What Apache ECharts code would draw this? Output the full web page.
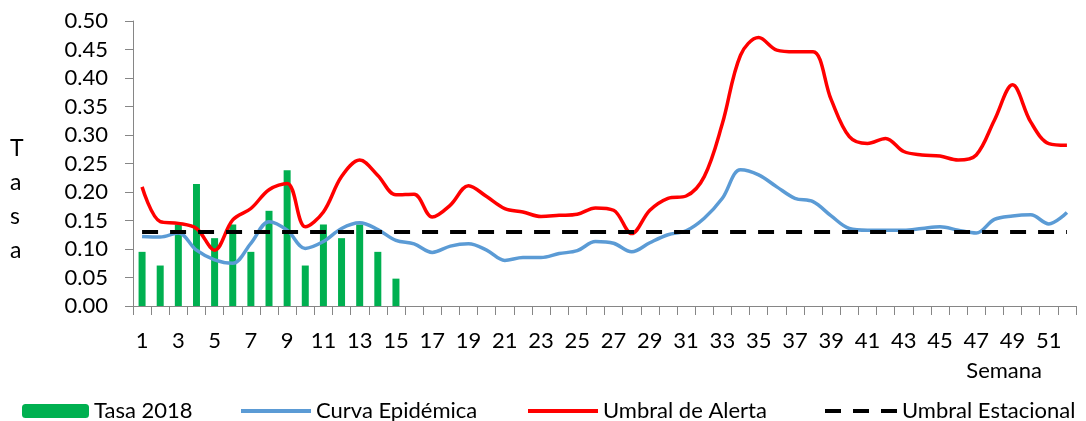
<!DOCTYPE html>
<html>
<head>
<meta charset="utf-8">
<title>Curva epidémica</title>
<script src="https://cdn.jsdelivr.net/npm/echarts@6/dist/echarts.min.js"></script>
<style>
  html, body { margin: 0; padding: 0; background: #fff; }
  #chart { width: 1086px; height: 421px; }
</style>
</head>
<body>
<div id="chart"></div>
<script>
// semanas epidemiologicas
var semanas = ['1', '2', '3', '4', '5', '6', '7', '8', '9', '10', '11', '12', '13',
  '14', '15', '16', '17', '18', '19', '20', '21', '22', '23', '24', '25', '26',
  '27', '28', '29', '30', '31', '32', '33', '34', '35', '36', '37', '38', '39',
  '40', '41', '42', '43', '44', '45', '46', '47', '48', '49', '50', '51', '52'];

// tasa 2018 (solo hasta la semana 15)
var tasa2018 = [0.095, 0.071, 0.143, 0.214, 0.119, 0.143, 0.095, 0.167, 0.238, 0.071,
  0.143, 0.119, 0.143, 0.095, 0.048];

var curvaEpidemica = [0.122, 0.121, 0.128, 0.098, 0.081, 0.075, 0.110, 0.148, 0.133, 0.101,
  0.113, 0.136, 0.146, 0.134, 0.115, 0.109, 0.094, 0.105, 0.109, 0.098,
  0.080, 0.085, 0.085, 0.092, 0.097, 0.113, 0.110, 0.095, 0.111, 0.125,
  0.132, 0.154, 0.189, 0.239, 0.230, 0.209, 0.189, 0.183, 0.158, 0.136,
  0.133, 0.133, 0.133, 0.136, 0.139, 0.133, 0.128, 0.152, 0.158, 0.160,
  0.144, 0.164];

var umbralAlerta = [0.209, 0.148, 0.145, 0.136, 0.098, 0.151, 0.171, 0.204, 0.215, 0.139,
  0.165, 0.227, 0.256, 0.229, 0.195, 0.196, 0.156, 0.177, 0.211, 0.192,
  0.171, 0.165, 0.157, 0.159, 0.161, 0.172, 0.168, 0.127, 0.168, 0.189,
  0.193, 0.227, 0.320, 0.440, 0.471, 0.449, 0.446, 0.446, 0.362, 0.297,
  0.285, 0.294, 0.271, 0.265, 0.263, 0.256, 0.265, 0.326, 0.388, 0.323,
  0.285, 0.282];

var umbralEstacional = [0.13, 0.13, 0.13, 0.13, 0.13, 0.13, 0.13, 0.13, 0.13, 0.13,
  0.13, 0.13, 0.13, 0.13, 0.13, 0.13, 0.13, 0.13, 0.13, 0.13,
  0.13, 0.13, 0.13, 0.13, 0.13, 0.13, 0.13, 0.13, 0.13, 0.13,
  0.13, 0.13, 0.13, 0.13, 0.13, 0.13, 0.13, 0.13, 0.13, 0.13,
  0.13, 0.13, 0.13, 0.13, 0.13, 0.13, 0.13, 0.13, 0.13, 0.13,
  0.13, 0.13];

var yTicks = { min: 0, max: 0.5, interval: 0.05 };

var FONT = 'Lato';
var AXIS_GRAY = '#868686';

var chartDom = document.getElementById('chart');
var myChart = echarts.init(chartDom, null, { renderer: 'canvas' });

// una leyenda por serie para fijar la posicion de cada una
function legendAt(name, left, w, h, isLine) {
  var l = {
    data: [name],
    left: left,
    top: 395,
    itemWidth: w,
    itemHeight: h,
    selectedMode: false,
    textStyle: { fontFamily: FONT, fontSize: 22, color: '#000' }
  };
  if (isLine) {
    l.itemStyle = { opacity: 0 };   // sin simbolo, solo la linea
    l.lineStyle = { width: 4 };
  }
  return l;
}

var option = {
  animation: false,
  textStyle: { fontFamily: FONT },
  grid: { left: 133, right: 10, top: 21, bottom: 115, containLabel: false },
  legend: [
    legendAt('Tasa 2018', 17, 67, 14, false),
    legendAt('Curva Epidémica', 234, 70, 14, true),
    legendAt('Umbral de Alerta', 521, 70, 14, true),
    legendAt('Umbral Estacional', 818, 72, 14, true)
  ],
  graphic: [
    {
      type: 'text',
      left: 10,
      top: 132,
      style: {
        text: 'T\na\ns\na',
        fontFamily: FONT,
        fontSize: 23,
        lineHeight: 34,
        fill: '#000',
        align: 'center'
      }
    }
  ],
  xAxis: {
    type: 'category',
    data: semanas,
    boundaryGap: true,
    name: 'Semana',
    nameLocation: 'end',
    nameGap: -34,
    nameMoveOverlap: false,
    nameTextStyle: {
      fontFamily: FONT, fontSize: 22, color: '#000',
      align: 'right', verticalAlign: 'top', padding: [54, 0, 0, 0]
    },
    axisLine: { show: true, lineStyle: { color: AXIS_GRAY, width: 1 } },
    axisTick: { show: true, interval: 0, length: 9, lineStyle: { color: AXIS_GRAY } },
    axisLabel: { interval: 1, margin: 24, fontFamily: FONT, fontSize: 22, color: '#000' },
    splitLine: { show: false }
  },
  yAxis: {
    type: 'value',
    min: yTicks.min,
    max: yTicks.max,
    interval: yTicks.interval,
    axisLine: { show: true, lineStyle: { color: AXIS_GRAY, width: 1 } },
    axisTick: { show: true, length: 8, lineStyle: { color: AXIS_GRAY } },
    axisLabel: {
      margin: 25, fontFamily: FONT, fontSize: 22, color: '#000',
      formatter: function (v) { return v.toFixed(2); }
    },
    splitLine: { show: false }
  },
  series: [
    {
      name: 'Tasa 2018',
      type: 'bar',
      data: tasa2018,
      barWidth: 7,
      itemStyle: { color: '#00B050' }
    },
    {
      name: 'Curva Epidémica',
      type: 'line',
      data: curvaEpidemica,
      smooth: 0.35,
      symbol: 'none',
      lineStyle: { color: '#5B9BD5', width: 3.5 },
      itemStyle: { color: '#5B9BD5' }
    },
    {
      name: 'Umbral de Alerta',
      type: 'line',
      data: umbralAlerta,
      smooth: 0.35,
      symbol: 'none',
      lineStyle: { color: '#FF0000', width: 3.5 },
      itemStyle: { color: '#FF0000' }
    },
    {
      name: 'Umbral Estacional',
      type: 'line',
      data: umbralEstacional,
      symbol: 'none',
      lineStyle: { color: '#000', width: 4, type: [16, 12] },
      itemStyle: { color: '#000' }
    }
  ]
};

myChart.setOption(option);
</script>
</body>
</html>
